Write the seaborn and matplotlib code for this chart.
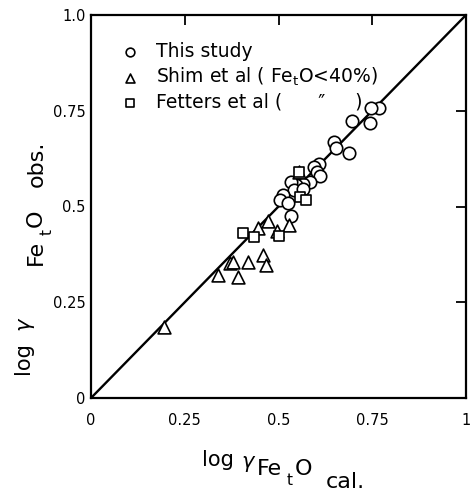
import matplotlib
matplotlib.use("Agg")
import matplotlib.pyplot as plt
import seaborn as sns
import pandas as pd

# ---- data ----
study_x = [0.768, 0.747, 0.745, 0.697, 0.647, 0.653, 0.689, 0.608, 0.595, 0.603, 0.611,
           0.584, 0.566, 0.547, 0.534, 0.542, 0.566, 0.511, 0.505, 0.526, 0.532]
study_y = [0.757, 0.757, 0.717, 0.723, 0.668, 0.652, 0.639, 0.610, 0.602, 0.590, 0.579,
           0.565, 0.560, 0.555, 0.563, 0.542, 0.545, 0.531, 0.518, 0.510, 0.474]

shim_x = [0.195, 0.339, 0.370, 0.379, 0.418, 0.392, 0.458, 0.466, 0.445, 0.471, 0.495, 0.529, 0.555]
shim_y = [0.186, 0.322, 0.352, 0.356, 0.356, 0.317, 0.374, 0.348, 0.445, 0.461, 0.437, 0.453, 0.589]

fetters_x = [0.405, 0.434, 0.500, 0.555, 0.558, 0.574]
fetters_y = [0.432, 0.421, 0.424, 0.589, 0.524, 0.516]

line_x = [0.0, 1.0]
line_y = [0.0, 1.0]

x_ticks = [0, 0.25, 0.5, 0.75, 1]
x_ticklabels = ["0", "0.25", "0.5", "0.75", "1"]
y_ticks = [0, 0.25, 0.5, 0.75, 1]
y_ticklabels = ["0", "0.25", "0.5", "0.75", "1.0"]

labels = ["This study", "Shim et al ( Fe$_\\mathregular{t}$O<40%)", "Fetters et al (      \u2033     )"]

sns.set_style("white")
plt.rcParams["font.family"] = ["DejaVu Sans"]
plt.rcParams["text.color"] = "black"
plt.rcParams["axes.labelcolor"] = "black"
plt.rcParams["xtick.color"] = "black"
plt.rcParams["ytick.color"] = "black"

W, H = 472, 492
fig = plt.figure(figsize=(W / 100, H / 100), dpi=100)
ax = fig.add_axes([91 / W, 1 - 398 / H, 375 / W, 383 / H])

ax.plot(line_x, line_y, color="black", lw=1.7, zorder=2)

common = dict(facecolor="white", edgecolor="black", linewidth=1.2, zorder=3, ax=ax)
sns.scatterplot(x=study_x, y=study_y, marker="o", s=80, label=labels[0], **common)
sns.scatterplot(x=shim_x, y=shim_y, marker="^", s=85, label=labels[1], **common)
sns.scatterplot(x=fetters_x, y=fetters_y, marker="s", s=60, label=labels[2], **common)

ax.set_xlim(0, 1)
ax.set_ylim(0, 1)
ax.set_xticks(x_ticks)
ax.set_xticklabels(x_ticklabels, fontsize=10.5, color="black")
ax.set_yticks(y_ticks)
ax.set_yticklabels(y_ticklabels, fontsize=10.5, color="black")
ax.tick_params(direction="in", length=7, width=1.3, top=True, right=True,
               labeltop=False, labelright=False, colors="black")
ax.tick_params(axis="x", pad=11)
ax.tick_params(axis="y", pad=4)
for sp in ax.spines.values():
    sp.set_linewidth(1.6)
    sp.set_color("black")
ax.set_xlabel("")
ax.set_ylabel("")

leg = ax.legend(loc="upper left", bbox_to_anchor=(0.075, 0.93), frameon=False,
                fontsize=13.5, handletextpad=0.75, labelspacing=0.25, markerscale=0.7,
                borderaxespad=0, borderpad=0, handlelength=1.2, labelcolor="black")

def ptxt(px, py, s, **kw):
    fig.text(px / W, 1 - py / H, s, color="black", **kw)

# x label (staircase typesetting)
ptxt(202, 466, "log", fontsize=15, ha="left", va="baseline")
ptxt(241, 468, r"$\gamma$", fontsize=15, ha="left", va="baseline")
ptxt(257, 475, "Fe", fontsize=16, ha="left", va="baseline")
ptxt(287, 485, "t", fontsize=11, ha="left", va="baseline")
ptxt(295, 475, "O", fontsize=16, ha="left", va="baseline")
ptxt(326, 488, "cal.", fontsize=16, ha="left", va="baseline")

# y label (rotated)
rk = dict(rotation=90, rotation_mode="anchor", ha="left", va="baseline")
ptxt(29, 374, "log", fontsize=15, **rk)
ptxt(31, 332, r"$\gamma$", fontsize=15, **rk)
ptxt(42, 265, "Fe", fontsize=16, **rk)
ptxt(52, 235, "t", fontsize=11, **rk)
ptxt(42, 227, "O", fontsize=16, **rk)
ptxt(43, 187, "obs.", fontsize=16, **rk)

fig.savefig("out.png", dpi=100)
